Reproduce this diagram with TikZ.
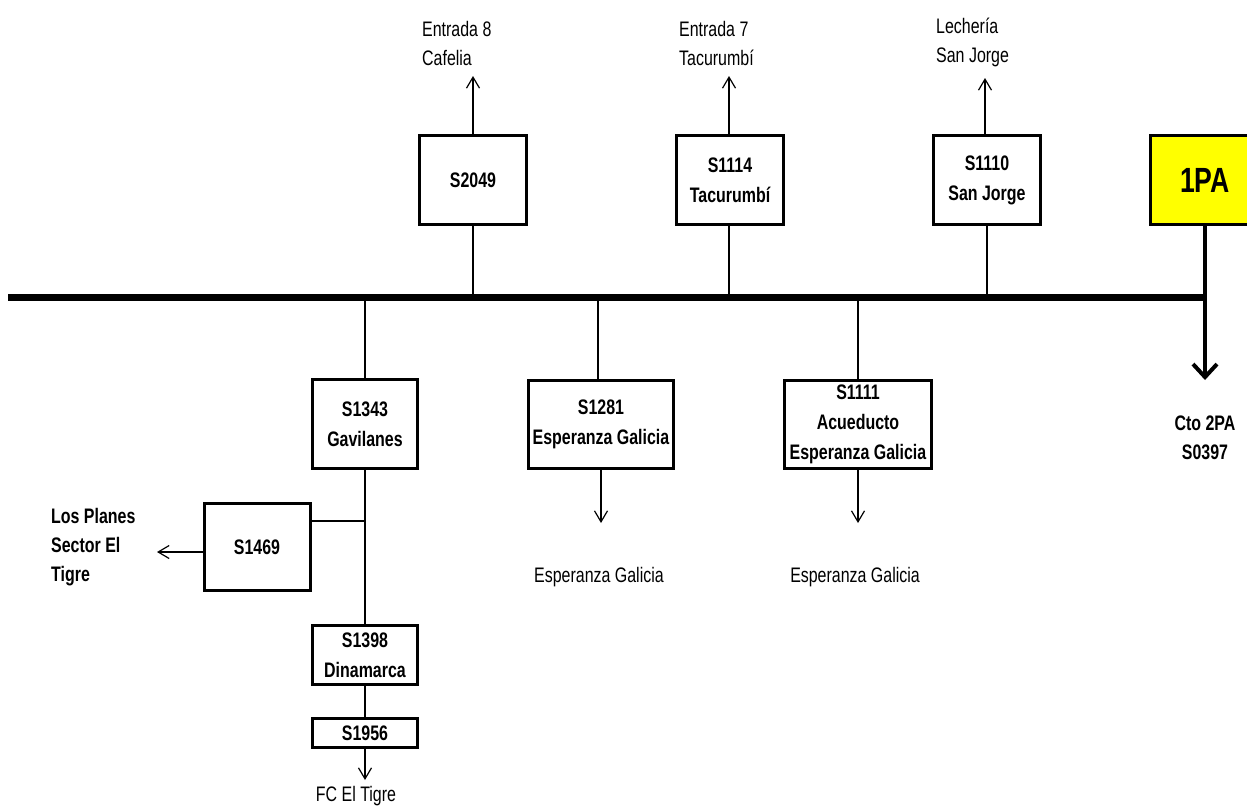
\documentclass[tikz,border=0pt]{standalone}
\usepackage{fontspec}
\setmainfont{Liberation Sans}[FakeStretch=0.76]
\usetikzlibrary{arrows.meta, positioning, calc}
\definecolor{amarillo}{RGB}{255, 255, 0}

\begin{document}
\begin{tikzpicture}[x=1pt, y=-1pt,
  caja/.style={draw, line width=3pt, fill=white, align=center, inner sep=2pt,
    font=\fontsize{21}{30}\selectfont\bfseries},
  etiqueta/.style={align=left, inner sep=0pt, font=\fontsize{21}{29}\selectfont},
  etiquetab/.style={etiqueta, font=\fontsize{21}{29}\selectfont\bfseries},
  linea/.style={line width=1.2pt},
  flecha/.style={line width=1.2pt, -{Straight Barb[length=11pt, width=13pt]}}]
  % parametros
  \def\busy{297}
  \def\ancho{107pt}
  \def\alto{89pt}

  \useasboundingbox (0,0) rectangle (1247,807);

  % ===== barra principal =====
  \coordinate (busL) at (8,\busy);
  \coordinate (busR) at (1207,\busy);
  \draw[line width=7pt] (busL) -- (busR);

  % ===== cajas arriba =====
  \node[caja, minimum width=\ancho, minimum height=\alto] (s2049) at (473,180) {S2049};
  \node[caja, minimum width=\ancho, minimum height=\alto] (s1114) at (730,180) {S1114\\Tacurumbí};
  \node[caja, minimum width=\ancho, minimum height=\alto] (s1110) at (987,180) {S1110\\San Jorge};
  \node[caja, fill=amarillo, minimum width=110pt, minimum height=\alto,
    font=\fontsize{35}{38}\selectfont\bfseries] (pa1) at (1205,180) {1PA};

  % salidas hacia arriba
  \node[etiqueta, anchor=west] (e8) at (422,43) {Entrada 8\\Cafelia};
  \node[etiqueta, anchor=west] (e7) at (679,43) {Entrada 7\\Tacurumbí};
  \node[etiqueta, anchor=west] (lech) at (936,42) {Lechería\\San Jorge};
  \coordinate (e8tip) at (473,76);
  \coordinate (e7tip) at (729,76);
  \coordinate (lechtip) at (985,78);
  \draw[flecha] (s2049.north) -- (e8tip);
  \draw[flecha] (s1114.north -| e7tip) -- (e7tip);
  \draw[flecha] (s1110.north -| lechtip) -- (lechtip);

  % bajadas a la barra
  \draw[linea] (s2049.south) -- (s2049.south |- busL);
  \draw[linea] (s1114.south -| e7tip) -- (e7tip |- busL);
  \draw[linea] (s1110.south) -- (s1110.south |- busL);

  % 1PA -> Cto 2PA
  \coordinate (patip) at (1205,380);
  \draw[line width=4pt, -{Straight Barb[length=13pt, width=24pt]}] (pa1.south) -- (patip);
  \node[etiquetab, align=center] (cto) at (1205,438) {Cto 2PA\\S0397};

  % ===== cajas abajo =====
  \node[caja, minimum width=105pt, minimum height=\alto] (s1343) at (365,424) {S1343\\Gavilanes};
  \node[caja, minimum width=145pt, minimum height=88pt] (s1281) at (601,424) {S1281\\Esperanza Galicia};
  \node[caja, minimum width=147pt, minimum height=88pt] (s1111) at (858,424) {S1111\\Acueducto\\Esperanza Galicia};
  \node[caja, minimum width=106pt, minimum height=87pt] (s1469) at (257,547) {S1469};
  \node[caja, minimum width=105pt, minimum height=59pt] (s1398) at (365,655) {S1398\\Dinamarca};
  \node[caja, minimum width=105pt, minimum height=29pt] (s1956) at (365,733) {S1956};

  % subidas a la barra
  \draw[linea] (s1343.north) -- (s1343.north |- busL);
  \draw[linea] (s1281.north) ++(-3,0) -- ($(s1281.north |- busL) + (-3,0)$);
  \draw[linea] (s1111.north) -- (s1111.north |- busL);

  % ramal Gavilanes
  \draw[linea] (s1343.south) -- (s1398.north);
  \coordinate (rama) at (365,521);
  \draw[linea] (rama) -- (rama -| s1469.east);
  \draw[linea] (s1398.south) -- (s1956.north);

  % salidas hacia abajo / izquierda
  \node[etiquetab, anchor=west] (planes) at (51,547) {Los Planes\\Sector El\\Tigre};
  \node[etiqueta, anchor=base] (fc) at (356,801) {FC El Tigre};
  \node[etiqueta, align=center] (eg1) at (599,577) {Esperanza Galicia};
  \node[etiqueta, align=center] (eg2) at (855,577) {Esperanza Galicia};
  \coordinate (plantip) at (157,552);
  \coordinate (fctip) at (365,780);
  \coordinate (eg1tip) at (601,523);
  \coordinate (eg2tip) at (858,523);
  \draw[flecha] (s1469.west |- plantip) -- (plantip);
  \draw[flecha] (s1956.south) -- (fctip);
  \draw[flecha] (s1281.south) -- (eg1tip);
  \draw[flecha] (s1111.south) -- (eg2tip);
\end{tikzpicture}
\end{document}
